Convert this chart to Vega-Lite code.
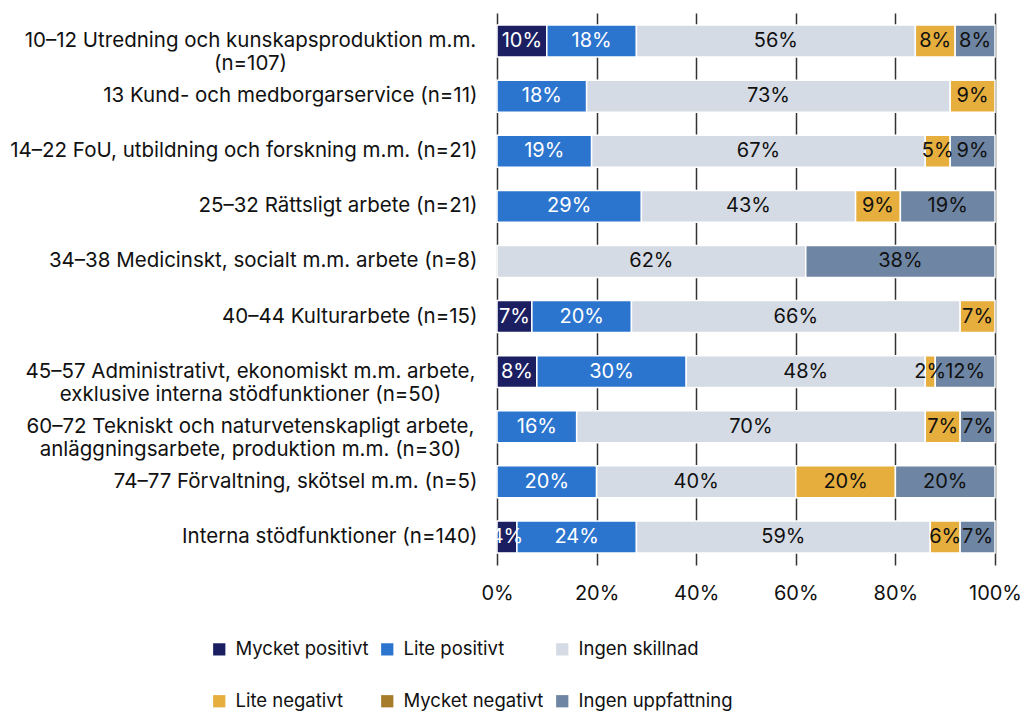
{
  "$schema": "https://vega.github.io/schema/vega-lite/v6.json",
  "width": 498,
  "height": 552,
  "autosize": {"type": "none"},
  "padding": {"left": 497, "top": 13, "right": 29, "bottom": 150},
  "config": {
    "font": "Inter",
    "view": {"stroke": null},
    "axis": {"labelFont": "Inter", "labelFontSize": 20, "labelColor": "#111"},
    "legend": {"labelFont": "Inter", "labelFontSize": 18.5, "labelColor": "#111"}
  },
  "data": {
    "values": [
      {"cat": "10–12 Utredning och kunskapsproduktion m.m.|(n=107)", "kat": "Mycket positivt", "k": 1, "v": 0.10},
      {"cat": "10–12 Utredning och kunskapsproduktion m.m.|(n=107)", "kat": "Lite positivt", "k": 2, "v": 0.18},
      {"cat": "10–12 Utredning och kunskapsproduktion m.m.|(n=107)", "kat": "Ingen skillnad", "k": 3, "v": 0.56},
      {"cat": "10–12 Utredning och kunskapsproduktion m.m.|(n=107)", "kat": "Lite negativt", "k": 4, "v": 0.08},
      {"cat": "10–12 Utredning och kunskapsproduktion m.m.|(n=107)", "kat": "Ingen uppfattning", "k": 6, "v": 0.08},
      {"cat": "13 Kund- och medborgarservice (n=11)", "kat": "Lite positivt", "k": 2, "v": 0.18},
      {"cat": "13 Kund- och medborgarservice (n=11)", "kat": "Ingen skillnad", "k": 3, "v": 0.73},
      {"cat": "13 Kund- och medborgarservice (n=11)", "kat": "Lite negativt", "k": 4, "v": 0.09},
      {"cat": "14–22 FoU, utbildning och forskning m.m. (n=21)", "kat": "Lite positivt", "k": 2, "v": 0.19},
      {"cat": "14–22 FoU, utbildning och forskning m.m. (n=21)", "kat": "Ingen skillnad", "k": 3, "v": 0.67},
      {"cat": "14–22 FoU, utbildning och forskning m.m. (n=21)", "kat": "Lite negativt", "k": 4, "v": 0.05},
      {"cat": "14–22 FoU, utbildning och forskning m.m. (n=21)", "kat": "Ingen uppfattning", "k": 6, "v": 0.09},
      {"cat": "25–32 Rättsligt arbete (n=21)", "kat": "Lite positivt", "k": 2, "v": 0.29},
      {"cat": "25–32 Rättsligt arbete (n=21)", "kat": "Ingen skillnad", "k": 3, "v": 0.43},
      {"cat": "25–32 Rättsligt arbete (n=21)", "kat": "Lite negativt", "k": 4, "v": 0.09},
      {"cat": "25–32 Rättsligt arbete (n=21)", "kat": "Ingen uppfattning", "k": 6, "v": 0.19},
      {"cat": "34–38 Medicinskt, socialt m.m. arbete (n=8)", "kat": "Ingen skillnad", "k": 3, "v": 0.62},
      {"cat": "34–38 Medicinskt, socialt m.m. arbete (n=8)", "kat": "Ingen uppfattning", "k": 6, "v": 0.38},
      {"cat": "40–44 Kulturarbete (n=15)", "kat": "Mycket positivt", "k": 1, "v": 0.07},
      {"cat": "40–44 Kulturarbete (n=15)", "kat": "Lite positivt", "k": 2, "v": 0.20},
      {"cat": "40–44 Kulturarbete (n=15)", "kat": "Ingen skillnad", "k": 3, "v": 0.66},
      {"cat": "40–44 Kulturarbete (n=15)", "kat": "Lite negativt", "k": 4, "v": 0.07},
      {"cat": "45–57 Administrativt, ekonomiskt m.m. arbete,|exklusive interna stödfunktioner (n=50)", "kat": "Mycket positivt", "k": 1, "v": 0.08},
      {"cat": "45–57 Administrativt, ekonomiskt m.m. arbete,|exklusive interna stödfunktioner (n=50)", "kat": "Lite positivt", "k": 2, "v": 0.30},
      {"cat": "45–57 Administrativt, ekonomiskt m.m. arbete,|exklusive interna stödfunktioner (n=50)", "kat": "Ingen skillnad", "k": 3, "v": 0.48},
      {"cat": "45–57 Administrativt, ekonomiskt m.m. arbete,|exklusive interna stödfunktioner (n=50)", "kat": "Lite negativt", "k": 4, "v": 0.02},
      {"cat": "45–57 Administrativt, ekonomiskt m.m. arbete,|exklusive interna stödfunktioner (n=50)", "kat": "Ingen uppfattning", "k": 6, "v": 0.12},
      {"cat": "60–72 Tekniskt och naturvetenskapligt arbete,|anläggningsarbete, produktion m.m. (n=30)", "kat": "Lite positivt", "k": 2, "v": 0.16},
      {"cat": "60–72 Tekniskt och naturvetenskapligt arbete,|anläggningsarbete, produktion m.m. (n=30)", "kat": "Ingen skillnad", "k": 3, "v": 0.70},
      {"cat": "60–72 Tekniskt och naturvetenskapligt arbete,|anläggningsarbete, produktion m.m. (n=30)", "kat": "Lite negativt", "k": 4, "v": 0.07},
      {"cat": "60–72 Tekniskt och naturvetenskapligt arbete,|anläggningsarbete, produktion m.m. (n=30)", "kat": "Ingen uppfattning", "k": 6, "v": 0.07},
      {"cat": "74–77 Förvaltning, skötsel m.m. (n=5)", "kat": "Lite positivt", "k": 2, "v": 0.20},
      {"cat": "74–77 Förvaltning, skötsel m.m. (n=5)", "kat": "Ingen skillnad", "k": 3, "v": 0.40},
      {"cat": "74–77 Förvaltning, skötsel m.m. (n=5)", "kat": "Lite negativt", "k": 4, "v": 0.20},
      {"cat": "74–77 Förvaltning, skötsel m.m. (n=5)", "kat": "Ingen uppfattning", "k": 6, "v": 0.20},
      {"cat": "Interna stödfunktioner (n=140)", "kat": "Mycket positivt", "k": 1, "v": 0.04},
      {"cat": "Interna stödfunktioner (n=140)", "kat": "Lite positivt", "k": 2, "v": 0.24},
      {"cat": "Interna stödfunktioner (n=140)", "kat": "Ingen skillnad", "k": 3, "v": 0.59},
      {"cat": "Interna stödfunktioner (n=140)", "kat": "Lite negativt", "k": 4, "v": 0.06},
      {"cat": "Interna stödfunktioner (n=140)", "kat": "Ingen uppfattning", "k": 6, "v": 0.07}
    ]
  },
  "encoding": {
    "y": {
      "field": "cat",
      "type": "nominal",
      "sort": null,
      "title": null,
      "scale": {"paddingInner": 0.42, "paddingOuter": 0.22},
      "axis": {
        "domain": false,
        "ticks": false,
        "grid": false,
        "labelLimit": 0,
        "labelFontSize": 20.5,
        "labelLineHeight": 23,
        "labelExpr": "split(datum.label, '|')",
        "labelAlign": {"condition": {"test": "indexof(datum.value, '|') >= 0", "value": "center"}, "value": "right"},
        "labelPadding": {"condition": {"test": "indexof(datum.value, '|') >= 0", "value": 247}, "value": 20}
      }
    },
    "order": {"field": "k", "type": "quantitative"}
  },
  "layer": [
    {
      "mark": {"type": "bar", "stroke": "white", "strokeWidth": 1.5},
      "encoding": {
        "x": {
          "field": "v",
          "type": "quantitative",
          "stack": "normalize",
          "title": null,
          "scale": {"domain": [0, 1], "nice": false},
          "axis": {
            "values": [0, 0.2, 0.4, 0.6, 0.8, 1],
            "format": ".0%",
            "domain": false,
            "ticks": false,
            "grid": true,
            "gridColor": "#333",
            "gridWidth": 1.5,
            "labelPadding": 18,
            "labelFlush": false
          }
        },
        "color": {
          "field": "kat",
          "type": "nominal",
          "scale": {
            "domain": ["Mycket positivt", "Lite positivt", "Ingen skillnad", "Lite negativt", "Mycket negativt", "Ingen uppfattning"],
            "range": ["#1b1f62", "#2c75cf", "#d5dbe5", "#e6ae3d", "#a67c2a", "#6e85a3"]
          },
          "legend": {
            "title": null,
            "orient": "none",
            "direction": "horizontal",
            "legendX": -287,
            "legendY": 627,
            "columns": 3,
            "symbolType": "square",
            "symbolSize": 150,
            "symbolStrokeWidth": 0,
            "labelOffset": 7,
            "columnPadding": 9,
            "rowPadding": 33
          }
        }
      }
    },
    {
      "mark": {"type": "text", "fontSize": 20, "baseline": "middle", "align": "center"},
      "encoding": {
        "x": {"field": "v", "type": "quantitative", "stack": "normalize", "bandPosition": 0.5},
        "text": {"field": "v", "type": "quantitative", "format": ".0%"},
        "color": {"condition": {"test": "datum.k <= 2", "value": "white"}, "value": "#111"}
      }
    }
  ]
}
